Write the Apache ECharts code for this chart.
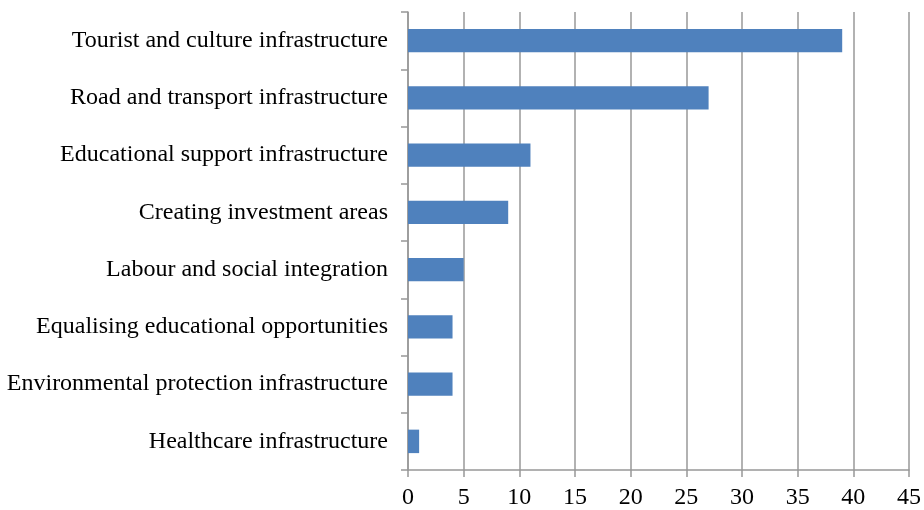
<!DOCTYPE html>
<html>
<head>
<meta charset="utf-8">
<script src="https://cdn.jsdelivr.net/npm/echarts@6/dist/echarts.min.js"></script>
<style>
  html, body { margin: 0; padding: 0; background: #fff; }
  #main { width: 924px; height: 510px; }
</style>
</head>
<body>
<div id="main"></div>
<script>
// categories top to bottom
var categories = [
  'Tourist and culture infrastructure',
  'Road and transport infrastructure',
  'Educational support infrastructure',
  'Creating investment areas',
  'Labour and social integration',
  'Equalising educational opportunities',
  'Environmental protection infrastructure',
  'Healthcare infrastructure'
];
var values = [39, 27, 11, 9, 5, 4, 4, 1];

var chart = echarts.init(document.getElementById('main'));
var axisGray = '#989898';

var option = {
  animation: false,
  textStyle: { fontFamily: '"Liberation Serif", "Times New Roman", serif' },
  grid: { left: 408, right: 15, top: 12, bottom: 40, containLabel: false },
  xAxis: {
    type: 'value',
    min: 0,
    max: 45,
    interval: 5,
    axisLine: { show: true, lineStyle: { color: axisGray, width: 1.5 } },
    axisTick: { show: true, length: 7, lineStyle: { color: axisGray, width: 1.5 } },
    axisLabel: { color: '#000', fontSize: 24, margin: 16, fontFamily: '"Liberation Serif", serif' },
    splitLine: { show: true, lineStyle: { color: axisGray, width: 1.5 } }
  },
  yAxis: {
    type: 'category',
    data: categories,
    inverse: true,
    axisLine: { show: true, lineStyle: { color: axisGray, width: 1.5 } },
    axisTick: { show: true, length: 7, lineStyle: { color: axisGray, width: 1.5 } },
    axisLabel: { color: '#000', fontSize: 24, margin: 20, fontFamily: '"Liberation Serif", serif' },
    splitLine: { show: false }
  },
  series: [{
    type: 'bar',
    data: values,
    barWidth: '41%',
    itemStyle: { color: '#4F81BD' }
  }]
};
chart.setOption(option);
</script>
</body>
</html>
